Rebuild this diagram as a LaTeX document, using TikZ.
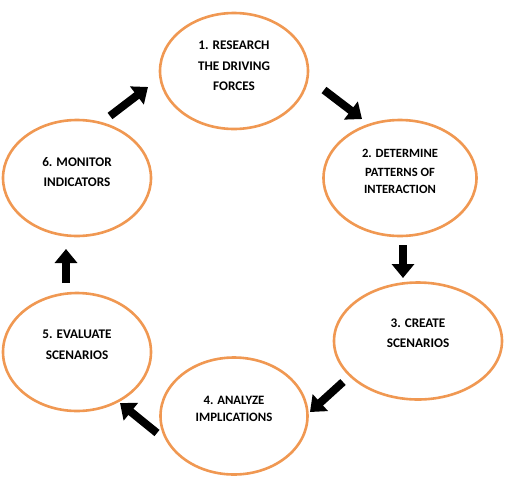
\documentclass[tikz,border=0pt]{standalone}
\usepackage{fontspec}
\setmainfont{Carlito}
\usetikzlibrary{shapes.geometric,arrows.meta,calc}
\definecolor{ringorange}{RGB}{240,152,82}

\begin{document}
\begin{tikzpicture}[x=1pt,y=-1pt,
        stage/.style={ellipse,draw=ringorange,line width=2.6pt,fill=white},
        stagetext/.style={font=\bfseries\fontsize{13.2}{20.5}\selectfont,align=center},
        flow/.style={line width=8pt,-{Triangle[width=22pt,length=14pt]}}]
        \useasboundingbox (0,0) rectangle (511,480);
        \node[stage,minimum width=148pt,minimum height=116pt] (s1) at (234,71) {};
        \node[stage,minimum width=153pt,minimum height=116pt] (s2) at (400,178) {};
        \node[stage,minimum width=168pt,minimum height=117pt] (s3) at (418,341) {};
        \node[stage,minimum width=147pt,minimum height=117pt] (s4) at (234,416) {};
        \node[stage,minimum width=148pt,minimum height=118pt] (s5) at (77,352) {};
        \node[stage,minimum width=148pt,minimum height=116pt] (s6) at (77,178) {};
        \node[stagetext] (t1) at ($(s1)+(0,-5)$) {1. RESEARCH\\THE DRIVING\\FORCES};
        \node[stagetext,font=\bfseries\fontsize{12.6}{17}\selectfont] (t2) at ($(s2)+(0,-7)$) {2. DETERMINE\\[2pt]PATTERNS OF\\INTERACTION};
        \node[stagetext] (t3) at ($(s3)+(0,-8)$) {3. CREATE\\SCENARIOS};
        \node[stagetext,font=\bfseries\fontsize{12.8}{17}\selectfont] (t4) at ($(s4)+(0,-7)$) {4. ANALYZE\\IMPLICATIONS};
        \node[stagetext] (t5) at ($(s5)+(0,-7)$) {5. EVALUATE\\SCENARIOS};
        \node[stagetext] (t6) at ($(s6)+(0,-6)$) {6. MONITOR\\INDICATORS};
        % arrow ends between the rings
        \coordinate (a1) at (324,90);   \coordinate (b1) at (362,119);
        \coordinate (a2) at (403,245);  \coordinate (b2) at (403,278);
        \coordinate (a3) at (343,382);  \coordinate (b3) at (310,412);
        \coordinate (a4) at (157,433);  \coordinate (b4) at (120,403);
        \coordinate (a5) at (66,283);   \coordinate (b5) at (66,249);
        \coordinate (a6) at (110,116);  \coordinate (b6) at (148,87);
        \foreach \i in {1,...,6}
            \draw[flow] (a\i) -- (b\i);
\end{tikzpicture}
\end{document}
